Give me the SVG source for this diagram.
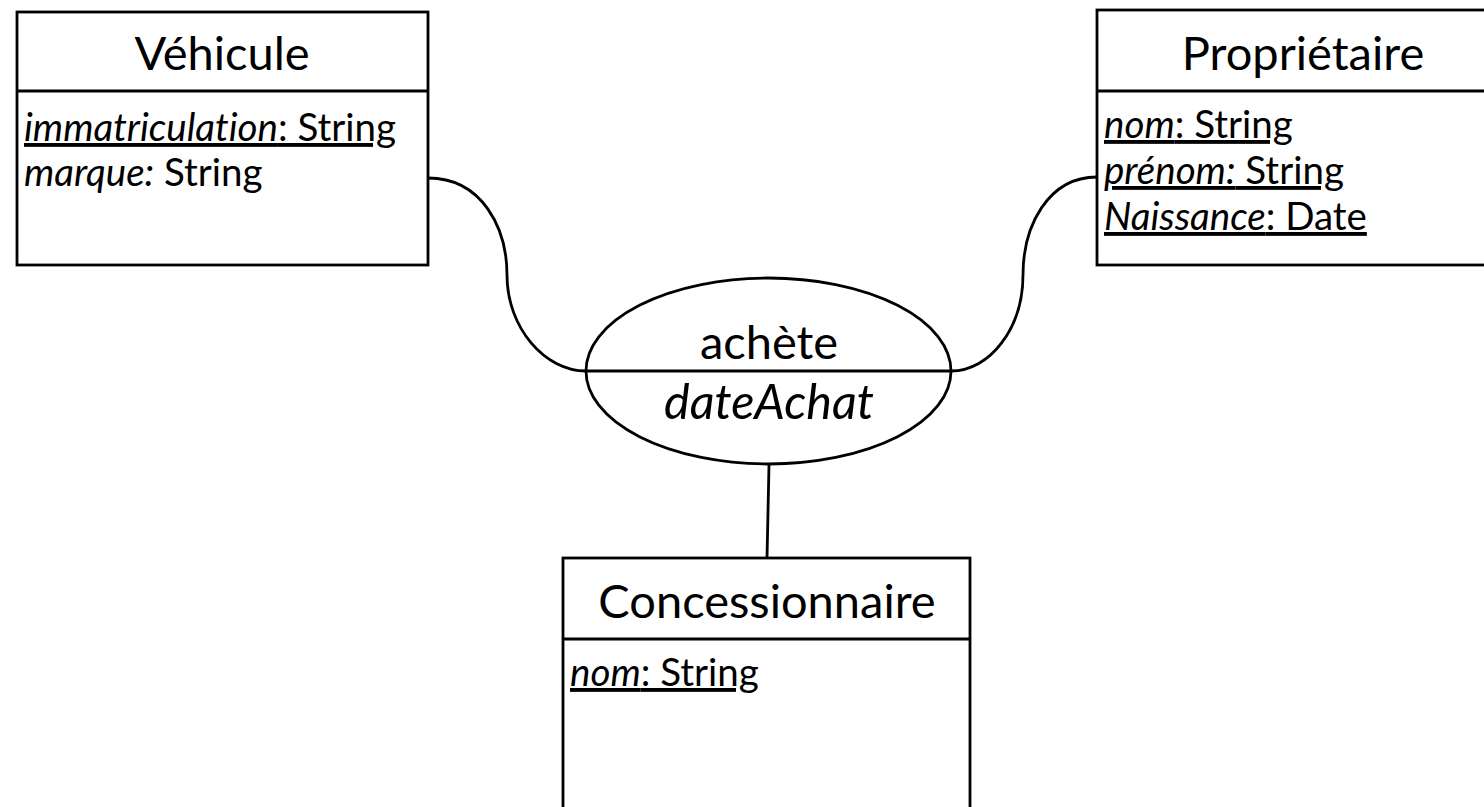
<svg xmlns="http://www.w3.org/2000/svg" width="1484" height="807" viewBox="0 0 1484 807">
<style>
.box{fill:#fff;stroke:#000;stroke-width:2.8}
.div{stroke:#000;stroke-width:2.8}
.conn{fill:none;stroke:#000;stroke-width:2.8}
text{font-family:Lato,"Open Sans","Liberation Sans",sans-serif;fill:#000;font-variant-ligatures:none;font-feature-settings:"liga" 0,"dlig" 0}
.title{font-size:47px;text-anchor:middle}
.attr{font-size:38.5px;text-decoration:underline}
.plain{font-size:38.5px}
.it{font-style:italic}
</style>
<rect width="1484" height="807" fill="#fff"/>
<g id="connectors">
<path class="conn" d="M428,178 C482,178 507,228 507,275 C507,328 545,371 586,371"/>
<path class="conn" d="M1097,177 C1048,177 1023,226 1023,275 C1023,328 990,371 951,371"/>
<path class="conn" d="M769,465 L768,512 L767,558"/>
</g>
<g id="vehicule">
<rect class="box" x="17" y="12" width="411" height="253"/>
<line class="div" x1="17" y1="91" x2="428" y2="91"/>
<text class="title" x="222" y="70">Véhicule</text>
<text class="attr" x="24" y="141"><tspan class="it">immatriculation</tspan>: String</text>
<text class="plain" x="24" y="186"><tspan class="it">marque:</tspan> String</text>
</g>
<g id="proprietaire">
<rect class="box" x="1097" y="10" width="400" height="255"/>
<line class="div" x1="1097" y1="91" x2="1497" y2="91"/>
<text class="title" x="1303" y="70">Propriétaire</text>
<text class="attr" x="1104" y="138"><tspan class="it">nom</tspan>: String</text>
<text class="attr" x="1104" y="184"><tspan class="it">prénom:</tspan> String</text>
<text class="attr" x="1104" y="230"><tspan class="it">Naissance</tspan>: Date</text>
</g>
<g id="achete">
<ellipse class="box" cx="768.5" cy="371" rx="182.5" ry="93"/>
<line class="div" x1="586" y1="371" x2="951" y2="371"/>
<text class="title" x="769" y="359">achète</text>
<text class="title it" x="769" y="419" style="font-size:48.5px">dateAchat</text>
</g>
<g id="concessionnaire">
<rect class="box" x="563" y="558" width="407" height="262"/>
<line class="div" x1="563" y1="639" x2="970" y2="639"/>
<text class="title" x="767" y="618">Concessionnaire</text>
<text class="attr" x="570" y="686"><tspan class="it">nom</tspan>: String</text>
</g>
</svg>
